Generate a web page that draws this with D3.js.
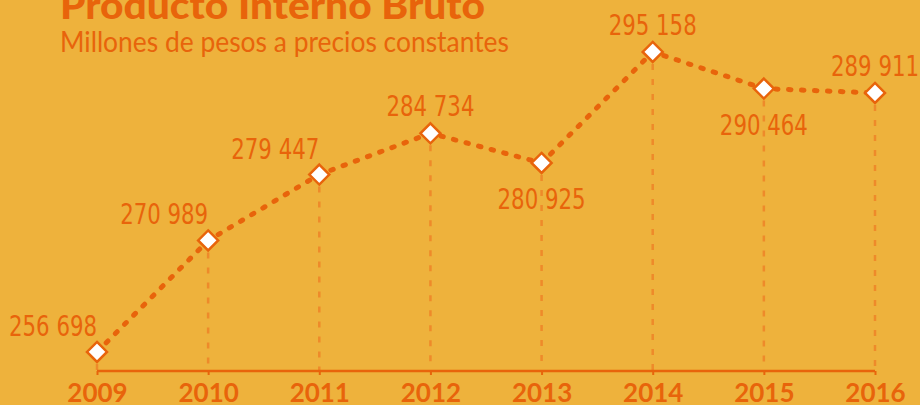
<!DOCTYPE html>
<html>
<head>
<meta charset="utf-8">
<script src="https://cdn.jsdelivr.net/npm/d3@7"></script>
<style>
  html, body { margin: 0; padding: 0; background: #EEB23C; }
  svg { display: block; }
</style>
</head>
<body>
<svg id="chart" width="920" height="405"></svg>
<script>
const title = "Producto Interno Bruto";
const subtitle = "Millones de pesos a precios constantes";
const years = ["2009", "2010", "2011", "2012", "2013", "2014", "2015", "2016"];
const pib = [256698, 270989, 279447, 284734, 280925, 295158, 290464, 289911];
const labelPlacement = ["left", "left", "left", "above", "below", "above", "below", "above"];

const W = 920, H = 405;
const orange = "#E8640B";
const lightOrange = "#EE8A2A";
const bg = "#EEB23C";

const svg = d3.select("#chart");
svg.append("rect").attr("width", W).attr("height", H).attr("fill", bg);

const x = d3.scalePoint().domain(years).range([97, 875]);
const y = d3.scaleLinear().domain([250000, 300000]).range([404.2, 14.2]);
const axisY = 371;

const fmt = v => d3.format(",")(v).replace(/,/g, " ");

// Title
svg.append("text")
  .attr("x", 60).attr("y", 19)
  .attr("font-family", "Lato, 'Open Sans', sans-serif")
  .attr("font-weight", 900)
  .attr("font-size", 38)
  .attr("fill", orange)
  .attr("textLength", 425).attr("lengthAdjust", "spacingAndGlyphs")
  .text(title);

svg.append("text")
  .attr("x", 60).attr("y", 52)
  .attr("font-family", "Lato, 'Open Sans', sans-serif")
  .attr("font-size", 29)
  .attr("fill", orange)
  .attr("textLength", 449).attr("lengthAdjust", "spacingAndGlyphs")
  .text(subtitle);

// Drop lines
svg.append("g").selectAll("line").data(years).join("line")
  .attr("x1", d => x(d)).attr("x2", d => x(d))
  .attr("y1", (d, i) => y(pib[i]) + 12).attr("y2", axisY)
  .attr("stroke", lightOrange).attr("stroke-width", 2.5)
  .attr("stroke-dasharray", "6,9");

// X axis
const axis = d3.axisBottom(x).tickSize(4).tickPadding(8);
const gAxis = svg.append("g").attr("transform", `translate(0,${axisY})`).call(axis);
gAxis.select(".domain").attr("stroke", orange).attr("stroke-width", 2.5)
  .attr("d", `M${x(years[0])},0H${x(years[years.length-1])}`);
gAxis.selectAll(".tick line").attr("stroke", orange).attr("stroke-width", 2);
gAxis.selectAll(".tick text")
  .attr("fill", orange)
  .attr("font-family", "Lato, 'Open Sans', sans-serif")
  .attr("font-weight", 700)
  .attr("font-size", 26)
  .attr("dy", "0.72em");

// Line
const line = d3.line().x((d, i) => x(years[i])).y(d => y(d));
svg.append("path").datum(pib)
  .attr("d", line)
  .attr("fill", "none")
  .attr("stroke", orange)
  .attr("stroke-width", 5)
  .attr("stroke-linecap", "round")
  .attr("stroke-dasharray", "2.5,10.5");

// Diamonds
svg.append("g").selectAll("path").data(pib).join("path")
  .attr("transform", (d, i) => `translate(${x(years[i])},${y(d)})`)
  .attr("d", "M0,-10L10,0L0,10L-10,0Z")
  .attr("fill", "#fff")
  .attr("stroke", orange)
  .attr("stroke-width", 2.5)
  .attr("stroke-linejoin", "miter");

// Value labels
svg.append("g").selectAll("text").data(pib).join("text")
  .attr("x", (d, i) => x(years[i]))
  .attr("y", (d, i) => {
    const p = labelPlacement[i];
    if (p === "below") return y(d) + 46;
    if (p === "left") return y(d) - 16;
    return y(d) - 17;
  })
  .attr("text-anchor", (d, i) => labelPlacement[i] === "left" ? "end" : "middle")
  .attr("font-family", "'Liberation Sans Narrow', 'DejaVu Sans Condensed', sans-serif")
  .attr("font-size", 28)
  .attr("fill", orange)
  .attr("textLength", 88).attr("lengthAdjust", "spacingAndGlyphs")
  .text(d => fmt(d));
</script>
</body>
</html>
